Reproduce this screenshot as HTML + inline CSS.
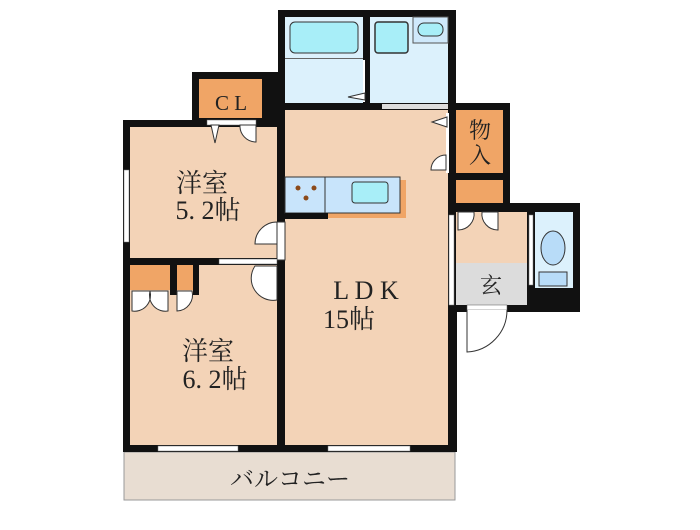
<!DOCTYPE html>
<html><head><meta charset="utf-8"><style>
body{margin:0;background:#fff}
text{font-family:"Liberation Serif","Noto Serif CJK SC",serif;fill:#222}
</style></head><body>
<svg width="700" height="525" viewBox="0 0 700 525" xmlns="http://www.w3.org/2000/svg">
<rect x="124" y="452" width="331" height="48" fill="#e8ddd2" stroke="#999" stroke-width="1"/>
<text x="290" y="487" font-size="24" text-anchor="middle" font-family="Liberation Sans,'Noto Sans CJK JP',sans-serif">バルコニー</text>
<rect x="123" y="120" width="162" height="332" fill="#111"/>
<rect x="192" y="72" width="93" height="55" fill="#111"/>
<rect x="278" y="10" width="178" height="442" fill="#111"/>
<rect x="448" y="103" width="62" height="107" fill="#111"/>
<rect x="448" y="203" width="132" height="109" fill="#111"/>
<rect x="448" y="203" width="9" height="249" fill="#111"/>
<rect x="130" y="127" width="147" height="131" fill="#f3d3b7"/>
<rect x="130" y="265" width="147" height="180" fill="#f3d3b7"/>
<rect x="285" y="110" width="163" height="335" fill="#f3d3b7"/>
<rect x="199" y="79" width="63" height="39" fill="#f0a566"/>
<text x="231" y="110" font-size="21" text-anchor="middle">C L</text>
<rect x="285" y="17" width="78" height="86" fill="#dcf1fc"/>
<rect x="290" y="22" width="68" height="31" rx="5" fill="#a8eef8" stroke="#333" stroke-width="1"/>
<rect x="285" y="58" width="78" height="1" fill="#666"/>
<rect x="370" y="17" width="78" height="86" fill="#dcf1fc"/>
<rect x="375" y="22" width="33" height="31" rx="3" fill="#a8eef8" stroke="#333" stroke-width="1.5"/>
<rect x="413" y="17" width="35" height="26" fill="#cfe9fb" stroke="#555" stroke-width="1"/>
<rect x="418" y="23" width="25" height="13" rx="6" fill="#a8eef8" stroke="#333" stroke-width="1"/>
<rect x="363" y="60" width="2" height="42" fill="#fff"/>
<polygon points="365,93 348,97 365,100" fill="#fff" stroke="#333"/>
<rect x="382" y="104" width="66" height="5" fill="#ddd"/>
<rect x="456" y="110" width="47" height="63" fill="#f0a566"/>
<text x="480" y="138" font-size="22" text-anchor="middle">物</text>
<text x="480" y="163" font-size="22" text-anchor="middle">入</text>
<rect x="446" y="113" width="3" height="60" fill="#fff"/>
<polygon points="447,117 432,122 447,127" fill="#fff" stroke="#333"/>
<path d="M446,155 A15,15 0 0 0 431,170 L446,170 Z" fill="#fff" stroke="#333"/>
<rect x="456" y="180" width="47" height="23" fill="#f0a566"/>
<rect x="456" y="212" width="71" height="51" fill="#f3d3b7"/>
<rect x="456" y="263" width="71" height="42" fill="#dcdcdc"/>
<text x="491" y="293" font-size="22" text-anchor="middle">玄</text>
<path d="M458,212 L458,230 A16,16 0 0 0 474,212 Z M498,212 L498,230 A16,16 0 0 1 482,212 Z" fill="#fff" stroke="#333"/>
<rect x="535" y="212" width="38" height="76" fill="#dcf1fc"/>
<ellipse cx="553" cy="248" rx="12" ry="17" fill="#b8dcf8" stroke="#333"/>
<rect x="539" y="272" width="28" height="14" fill="#b8dcf8" stroke="#333"/>
<rect x="467" y="305" width="40" height="5" fill="#fff" stroke="#555" stroke-width=".5"/>
<path d="M467,310 L467,352 A42,42 0 0 0 507,310" fill="#fff" stroke="#333"/>
<rect x="328" y="180" width="78" height="38" fill="#f0a566"/>
<rect x="285" y="177" width="115" height="36" fill="#c8e4fb" stroke="#333" stroke-width="1"/>
<line x1="325" y1="177" x2="325" y2="213" stroke="#333"/>
<circle cx="298" cy="188" r="2.5" fill="#8b4a1a"/><circle cx="314" cy="188" r="2.5" fill="#8b4a1a"/><circle cx="306" cy="198" r="2.5" fill="#8b4a1a"/>
<rect x="352" y="182" width="36" height="21" rx="3" fill="#a8eef8" stroke="#333"/>
<rect x="285" y="213" width="43" height="6" fill="#111"/>
<rect x="207" y="120" width="49" height="5" fill="#fff" stroke="#666" stroke-width=".5"/>
<polygon points="211,125 215,143 219,125" fill="#fff" stroke="#333"/>
<path d="M256,125 L256,142 A16,16 0 0 1 240,125 Z" fill="#fff" stroke="#333"/>
<path d="M277,222 A22,22 0 0 0 255,244 L277,244 Z" fill="#fff" stroke="#333"/>
<rect x="277" y="222" width="8" height="38" fill="#fff" stroke="#333"/>
<rect x="130" y="258" width="147" height="7" fill="#111"/>
<rect x="219" y="259" width="58" height="5" fill="#fff" stroke="#555" stroke-width=".5"/>
<path d="M277,266 L255,266 A22,22 0 0 0 277,300 Z" fill="#fff" stroke="#333"/>
<rect x="130" y="265" width="40" height="25" fill="#f0a566"/>
<rect x="177" y="265" width="16" height="25" fill="#f0a566"/>
<rect x="170" y="265" width="7" height="30" fill="#111"/>
<rect x="193" y="265" width="6" height="30" fill="#111"/>
<path d="M132,291 L132,311 A16,16 0 0 0 150,291 Z M168,291 L168,311 A16,16 0 0 1 150,291 Z M177,291 L177,311 A16,16 0 0 0 192,291 Z" fill="#fff" stroke="#333"/>
<rect x="124" y="170" width="5" height="72" fill="#fff" stroke="#777" stroke-width=".5"/>
<rect x="158" y="446" width="80" height="5" fill="#fff" stroke="#777" stroke-width=".5"/>
<rect x="328" y="446" width="82" height="5" fill="#fff" stroke="#777" stroke-width=".5"/>
<rect x="449" y="215" width="5" height="90" fill="#fff" stroke="#777" stroke-width=".5"/>
<rect x="529" y="215" width="4" height="70" fill="#fff" stroke="#777" stroke-width=".5"/>
<text x="202" y="192" font-size="26" text-anchor="middle">洋室</text>
<text x="208" y="219" font-size="26" text-anchor="middle">5. 2帖</text>
<text x="208" y="360" font-size="26" text-anchor="middle">洋室</text>
<text x="215" y="388" font-size="26" text-anchor="middle">6. 2帖</text>
<text x="366" y="299" font-size="26" text-anchor="middle">L D K</text>
<text x="349" y="328" font-size="26" text-anchor="middle">15帖</text>
</svg>
</body></html>
